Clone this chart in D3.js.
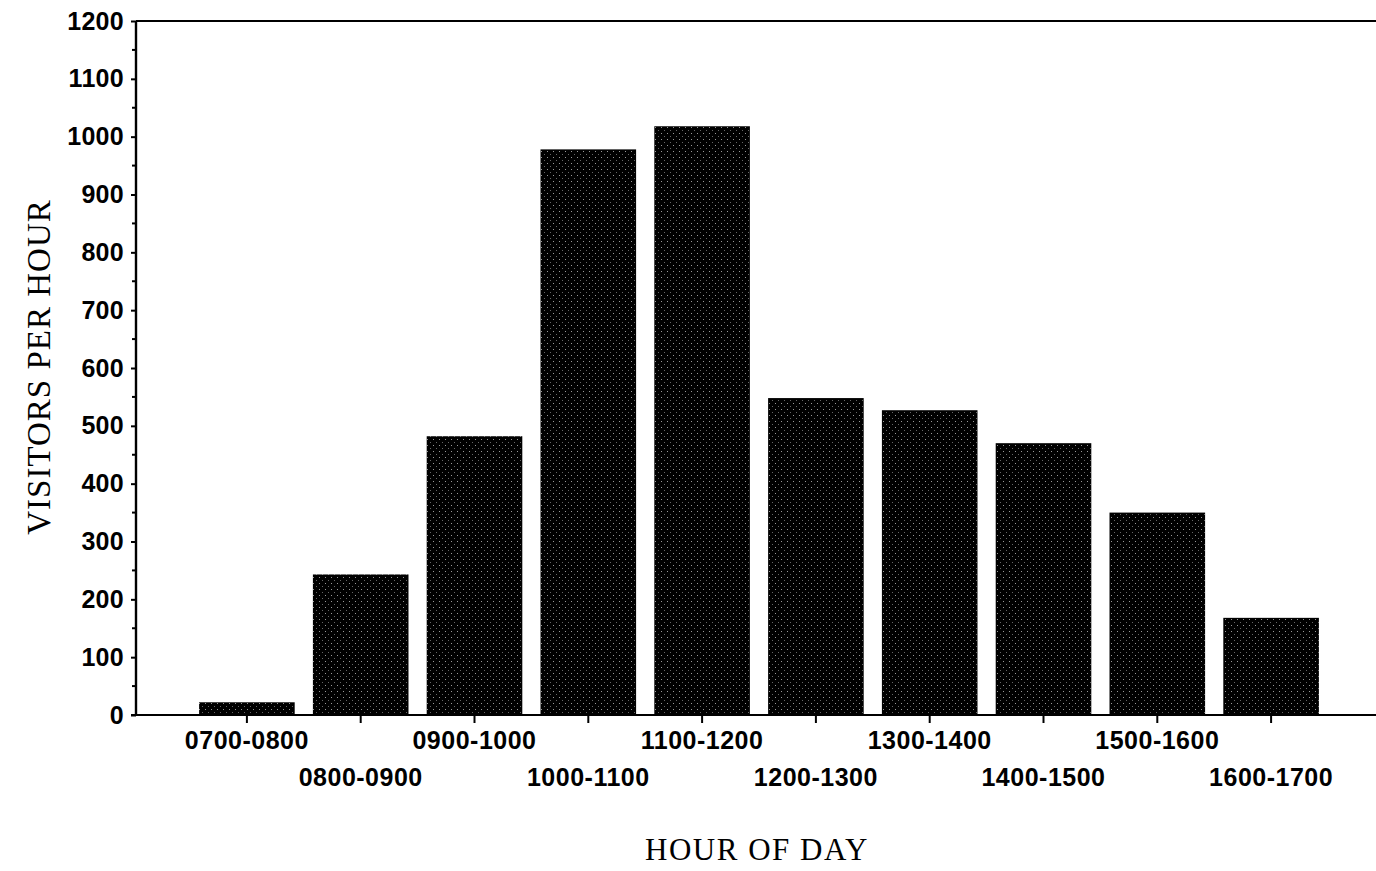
<!DOCTYPE html>
<html><head><meta charset="utf-8">
<script src="https://cdn.jsdelivr.net/npm/d3@7"></script>
<style>body{margin:0;background:#fff;} svg{display:block;}</style>
</head><body>
<svg id="chart" width="1376" height="871"></svg>
<script>
const categories = ["0700-0800","0800-0900","0900-1000","1000-1100","1100-1200","1200-1300","1300-1400","1400-1500","1500-1600","1600-1700"];
const visitors = [22, 243, 482, 978, 1018, 548, 527, 470, 350, 168];
const yTicks = [0,100,200,300,400,500,600,700,800,900,1000,1100,1200];
const yTitle = "VISITORS PER HOUR";
const xTitle = "HOUR OF DAY";

(function(){
const svg = d3.select("#chart");
const mL = 136, mR = 1376, mT = 21, mB = 715;

const defs = svg.append("defs");
const pat = defs.append("pattern").attr("id","stip").attr("patternUnits","userSpaceOnUse")
  .attr("width",6).attr("height",6);
pat.append("rect").attr("width",6).attr("height",6).attr("fill","#000");
pat.append("rect").attr("x",1).attr("y",1).attr("width",1).attr("height",1).attr("fill","#fff").attr("opacity",0.6);
pat.append("rect").attr("x",4).attr("y",4).attr("width",1).attr("height",1).attr("fill","#fff").attr("opacity",0.4);

const x = d3.scaleBand().domain(categories).range([190,1328]).paddingInner(0.16).paddingOuter(0.08);
const y = d3.scaleLinear().domain([0,1200]).range([mB, mT]);

// bars
svg.append("g").selectAll("rect").data(categories).join("rect")
  .attr("x", d => x(d)).attr("width", x.bandwidth())
  .attr("y", (d,i) => y(visitors[i])).attr("height", (d,i) => mB - y(visitors[i]))
  .attr("fill","url(#stip)");

const font = "'Liberation Sans', Arial, sans-serif";

// y axis
const yAxis = d3.axisLeft(y).tickValues(yTicks).tickSize(5).tickPadding(7).tickFormat(d3.format("d"));
const gy = svg.append("g").attr("transform",`translate(${mL},0)`).call(yAxis);
gy.select(".domain").remove();
gy.selectAll(".tick line").attr("stroke","#000").attr("stroke-width",2);
gy.selectAll(".tick text").attr("font-family",font).attr("font-size",25).attr("font-weight","bold")
  .attr("letter-spacing",0.3).attr("fill","#000");
// minor ticks
const minor = d3.range(50,1200,100);
svg.append("g").selectAll("line").data(minor).join("line")
  .attr("x1",mL-4).attr("x2",mL).attr("y1",d=>y(d)).attr("y2",d=>y(d))
  .attr("stroke","#000").attr("stroke-width",2);

// frame lines
svg.append("line").attr("x1",mL).attr("x2",mL).attr("y1",mT).attr("y2",mB+1).attr("stroke","#000").attr("stroke-width",2.4);
svg.append("line").attr("x1",mL).attr("x2",mR).attr("y1",mT).attr("y2",mT).attr("stroke","#000").attr("stroke-width",2);
svg.append("line").attr("x1",mL-5).attr("x2",mR).attr("y1",mB).attr("y2",mB).attr("stroke","#000").attr("stroke-width",2);

// x axis
const xAxis = d3.axisBottom(x).tickSize(8).tickSizeOuter(0);
const gx = svg.append("g").attr("transform",`translate(0,${mB})`).call(xAxis);
gx.select(".domain").remove();
gx.selectAll(".tick line").attr("stroke","#000").attr("stroke-width",2);
gx.selectAll(".tick text").attr("font-family",font).attr("font-size",25).attr("font-weight","bold")
  .attr("letter-spacing",0.5).attr("fill","#000")
  .attr("dy",null)
  .attr("y",(d,i) => i % 2 === 0 ? 34 : 71);

// titles
svg.append("text").attr("transform",`translate(50,367) rotate(-90)`).attr("text-anchor","middle")
  .attr("font-family","'Liberation Serif', 'Times New Roman', serif").attr("font-size",33)
  .attr("letter-spacing",1).text(yTitle);
svg.append("text").attr("x",757).attr("y",860).attr("text-anchor","middle")
  .attr("font-family","'Liberation Serif', 'Times New Roman', serif").attr("font-size",31)
  .attr("letter-spacing",1.5).text(xTitle);
})();
</script>
</body></html>
